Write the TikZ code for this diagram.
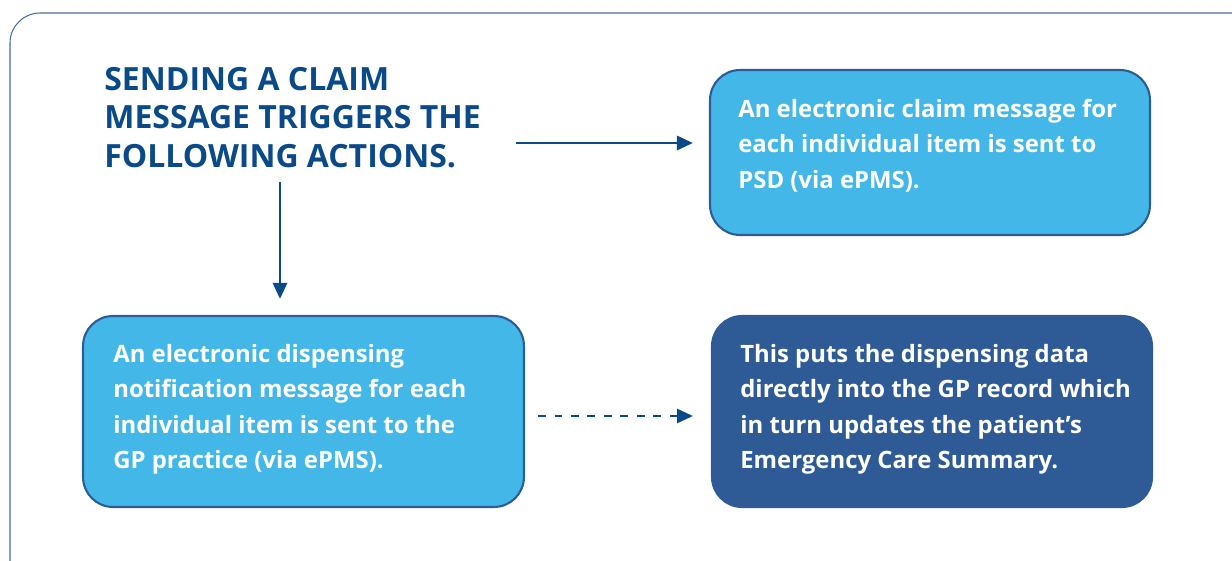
\documentclass[tikz,border=0pt]{standalone}
\usepackage{fontspec}
\setmainfont{Open Sans}
\usetikzlibrary{arrows.meta, positioning}

\definecolor{navy}{RGB}{10,74,136}
\definecolor{skyfill}{RGB}{66,183,232}
\definecolor{edgeblue}{RGB}{46,92,153}
\definecolor{deepbox}{RGB}{46,91,150}
\definecolor{framecol}{RGB}{74,108,160}

\tikzset{
  infobox/.style={draw=edgeblue, line width=1.2pt, fill=skyfill, rounded corners=0.6cm,
    minimum width=8.8cm, inner sep=0pt},
  darkbox/.style={infobox, draw=deepbox, fill=deepbox},
  boxtext/.style={text=white, align=left, inner sep=0pt, anchor=north west,
    font=\fontsize{13.6}{20.1}\selectfont\bfseries},
  flow/.style={draw=navy, line width=1.7pt, -{Triangle[length=0.32cm, width=0.28cm]}}
}

\begin{document}
\begin{tikzpicture}[x=0.02cm, y=-0.02cm]
    \useasboundingbox (0,0) rectangle (1232,561);
    \clip (0,0) rectangle (1232,561);

    % outer frame, runs off the page on the right and bottom
    \draw[framecol, line width=0.6pt, rounded corners=0.6cm]
        (10,620) -- (10,13) -- (1290,13) -- (1290,620);

    % heading
    \node[text=navy, align=left, inner sep=0pt, anchor=north west,
          font=\fontsize{18.2}{21.8}\selectfont\bfseries] (heading) at (104,67)
        {SENDING A CLAIM\\MESSAGE TRIGGERS THE\\FOLLOWING ACTIONS.};

    % boxes
    \node[infobox, minimum height=3.3cm] (claimbox) at (930,152.5) {};
    \node[boxtext] (claimtext) at (738,99)
        {An electronic claim message for\\each individual item is sent to\\PSD (via ePMS).};

    \node[infobox, minimum width=8.82cm, minimum height=3.82cm] (notifybox) at (303.5,411.5) {};
    \node[boxtext] (notifytext) at (113,344)
        {An electronic dispensing\\notification message for each\\individual item is sent to the\\GP practice (via ePMS).};

    \node[darkbox, minimum height=3.82cm] (recordbox) at (932,411.5) {};
    \node[boxtext] (recordtext) at (740,344)
        {This puts the dispensing data\\directly into the GP record which\\in turn updates the patient’s\\Emergency Care Summary.};

    % arrows
    \coordinate (rightstart) at (516,143);
    \coordinate (downstart) at (280,182);
    \coordinate (dashstart) at (538,416);
    \draw[flow, shorten >=0.32cm] (rightstart) -- (rightstart -| claimbox.west);
    \draw[flow, shorten >=0.32cm] (downstart) -- (downstart |- notifybox.north);
    \draw[flow, dash pattern=on 0.16cm off 0.17cm, shorten >=0.36cm]
        (dashstart) -- (dashstart -| recordbox.west);
\end{tikzpicture}
\end{document}
